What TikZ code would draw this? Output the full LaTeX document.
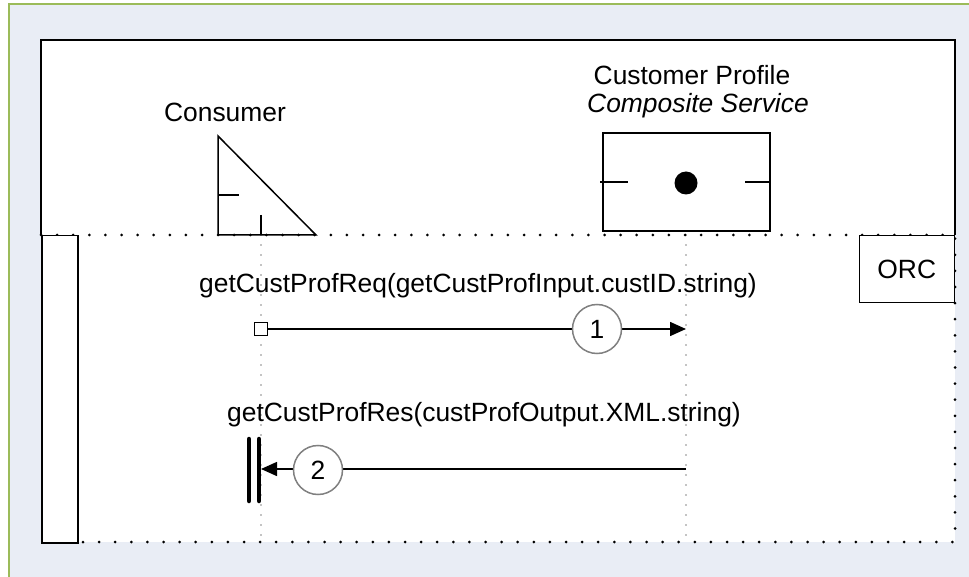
\documentclass[tikz,border=0pt]{standalone}
\usepackage{fontspec}
\setmainfont{Liberation Sans}
\usetikzlibrary{arrows.meta}
\definecolor{panelbg}{RGB}{233,237,245}
\definecolor{panelrim}{RGB}{155,187,89}
\definecolor{ringgray}{RGB}{128,128,128}
\tikzset{
  lbl/.style={font=\fontsize{26.4}{30}\selectfont, inner sep=0pt},
  boxline/.style={line width=1.5pt},
  lanedots/.style={line width=3pt, line cap=round, dash pattern=on 0pt off 16.1pt},
  lifedots/.style={line width=1.4pt, line cap=round, dash pattern=on 0pt off 10pt},
  msg/.style={line width=1.5pt, -{Triangle[length=16pt,width=14pt]}},
  stepnum/.style={circle, draw=ringgray, line width=1.5pt, fill=white,
    minimum size=49pt, inner sep=0pt, font=\fontsize{26.4}{30}\selectfont},
  sendmark/.style={rectangle, draw, line width=1.5pt, fill=white,
    minimum size=13pt, inner sep=0pt},
  recvbar/.style={line width=4.5pt, line cap=round}
}
\begin{document}
\begin{tikzpicture}[x=1pt,y=-1pt]
\useasboundingbox (0,0) rectangle (969,577);
% panel background with its rim on the left and top
\fill[panelbg] (9,4) rectangle (969,577);
\draw[panelrim, line width=2pt] (9,577) -- (9,4) -- (969,4);

% participant band and the interaction area below it
\fill[white] (41,40) rectangle (955,542);
\draw[boxline] (41,235) -- (41,40) -- (955,40) -- (955,235);
\draw[lanedots] (41,235) -- (955,235) -- (955,542) -- (41,542);

% swim lane bar
\node[draw, boxline, fill=white, minimum width=36pt, minimum height=307pt,
  inner sep=0pt, anchor=north west] (lane) at (41,235) {};

% consumer
\node[lbl, anchor=base] (consumerlbl) at (225,122) {Consumer};
\draw[boxline] (218,136) -- (218,235) -- (316,235) -- cycle;
\draw[boxline] (218,195) -- (239,195);
\draw[boxline] (261,215) -- (261,235);
\coordinate (ctop) at (261,235);
\coordinate (cbot) at (261,542);

% customer profile composite service
\node[lbl, anchor=base] (svclbl) at (692,85) {Customer Profile};
\node[lbl, anchor=base] (svckind) at (698,113) {\itshape Composite Service};
\node[draw, boxline, fill=white, minimum width=167pt, minimum height=98pt,
  inner sep=0pt] (svc) at (686.5,182) {};
\fill (686,183) circle (11.5pt);
\draw[boxline] (svc.west) ++(-2,0) -- ++(28,0);
\draw[boxline] (svc.east) -- ++(-26,0);
\coordinate (stop) at (686,235);
\coordinate (sbot) at (686,542);

% lifelines
\draw[lifedots] (ctop) -- (cbot);
\draw[lifedots] (stop) -- (sbot);

% orchestration marker
\node[draw, boxline, fill=white, minimum width=95pt, minimum height=67pt,
  inner sep=0pt, anchor=north east, lbl] (orc) at (955,235) {ORC};

% message 1: request
\node[lbl, anchor=base] (req) at (478,293) {getCustProfReq(getCustProfInput.custID.string)};
\node[sendmark] (src1) at (261,329) {};
\coordinate (dst1) at (686,329);
\draw[msg] (src1) -- (dst1);
\node[stepnum] (n1) at (597,329) {1};

% message 2: response
\node[lbl, anchor=base] (res) at (484,421) {getCustProfRes(custProfOutput.XML.string)};
\coordinate (src2) at (686,469);
\coordinate (dst2) at (261,469);
\draw[msg] (src2) -- (dst2);
\node[stepnum] (n2) at (318,470) {2};
\draw[recvbar] (249,439) -- (249,501);
\draw[recvbar] (259,439) -- (259,501);
\end{tikzpicture}
\end{document}
